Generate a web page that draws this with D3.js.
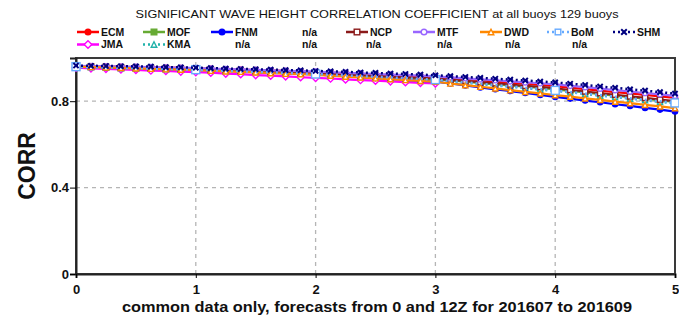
<!DOCTYPE html>
<html><head><meta charset="utf-8">
<script src="https://cdn.jsdelivr.net/npm/d3@7"></script>
<style>body{margin:0;background:#fff}svg{display:block;font-family:"Liberation Sans",Arial,sans-serif}</style>
</head><body><svg id="c" width="679" height="320"></svg>
<script>
// 3-hourly forecast lead times in days (0 .. 5)
const leadDays = [0,0.125,0.25,0.375,0.5,0.625,0.75,0.875,1,1.125,1.25,1.375,1.5,1.625,1.75,1.875,2,2.125,2.25,2.375,2.5,2.625,2.75,2.875,3,3.125,3.25,3.375,3.5,3.625,3.75,3.875,4,4.125,4.25,4.375,4.5,4.625,4.75,4.875,5];
const dailyDays = [0,1,2,3,4,5];
const xTicks = [0,1,2,3,4,5];
const yTicks = [0,0.4,0.8];

const ECM = [0.963,0.962,0.961,0.959,0.958,0.957,0.955,0.954,0.952,0.950,0.948,0.946,0.944,0.942,0.940,0.937,0.935,0.932,0.929,0.926,0.923,0.921,0.918,0.915,0.912,0.907,0.902,0.897,0.891,0.886,0.881,0.875,0.870,0.863,0.856,0.849,0.842,0.836,0.829,0.822,0.815];
const JMA = [0.955,0.952,0.950,0.947,0.945,0.942,0.940,0.937,0.935,0.932,0.928,0.925,0.921,0.918,0.915,0.911,0.908,0.905,0.901,0.898,0.895,0.892,0.888,0.885,0.882];
const MOF = [0.961,0.960,0.958,0.956,0.955,0.953,0.951,0.949,0.947,0.945,0.942,0.940,0.938,0.935,0.933,0.930,0.928,0.925,0.922,0.918,0.915,0.912,0.909,0.905,0.902,0.896,0.890,0.884,0.878,0.873,0.867,0.861,0.855,0.848,0.841,0.833,0.826,0.819,0.812,0.804,0.797];
const KMA = [0.958,0.957,0.955,0.953,0.952,0.950,0.948,0.947,0.945,0.943,0.940,0.938,0.935,0.933,0.930,0.928,0.925,0.922,0.918,0.915,0.911,0.908,0.905,0.901,0.898,0.892,0.886,0.879,0.873,0.867,0.861,0.854,0.848,0.841,0.834,0.826,0.819,0.812,0.805,0.797,0.790];
const FNM = [0.962,0.960,0.958,0.956,0.954,0.952,0.950,0.948,0.946,0.943,0.941,0.938,0.935,0.932,0.930,0.927,0.924,0.920,0.916,0.911,0.907,0.903,0.899,0.894,0.890,0.882,0.873,0.864,0.855,0.847,0.838,0.829,0.820,0.812,0.803,0.795,0.786,0.778,0.769,0.761,0.752];
const NCP = [0.962,0.961,0.959,0.957,0.956,0.954,0.952,0.950,0.948,0.946,0.944,0.941,0.939,0.937,0.935,0.932,0.930,0.927,0.924,0.921,0.918,0.914,0.911,0.908,0.905,0.899,0.894,0.888,0.883,0.877,0.871,0.866,0.860,0.852,0.845,0.837,0.830,0.822,0.815,0.807,0.800];
const MTF = [0.964,0.963,0.962,0.960,0.959,0.958,0.956,0.955,0.953,0.951,0.949,0.947,0.945,0.943,0.941,0.939,0.937,0.934,0.931,0.929,0.926,0.923,0.921,0.918,0.915,0.910,0.906,0.901,0.897,0.892,0.887,0.883,0.878,0.871,0.865,0.858,0.851,0.845,0.838,0.832,0.825];
const DWD = [0.960,0.958,0.956,0.954,0.952,0.950,0.948,0.946,0.944,0.941,0.938,0.936,0.933,0.930,0.927,0.925,0.922,0.918,0.914,0.910,0.906,0.902,0.898,0.894,0.890,0.882,0.874,0.867,0.859,0.851,0.843,0.836,0.828,0.821,0.813,0.806,0.798,0.791,0.783,0.776,0.768];
const BoM = [0.960,0.946,0.926,0.900,0.850,0.792];
const SHM = [0.965,0.964,0.963,0.962,0.961,0.960,0.958,0.957,0.955,0.953,0.951,0.949,0.948,0.946,0.944,0.943,0.940,0.938,0.936,0.933,0.931,0.928,0.926,0.923,0.920,0.916,0.912,0.908,0.904,0.900,0.896,0.891,0.887,0.881,0.875,0.868,0.862,0.855,0.849,0.842,0.835];

const series = [
  {name:"ECM", vals:ECM, xs:leadDays, color:"#ff0000", marker:"circle", fill:true, dash:null, lx:77, row:0},
  {name:"JMA", vals:JMA, xs:leadDays, color:"#ff00ff", marker:"diamond", fill:false, dash:null, lx:77, row:1},
  {name:"MOF", vals:MOF, xs:leadDays, color:"#66aa33", marker:"square", fill:true, dash:null, lx:143, row:0},
  {name:"KMA", vals:KMA, xs:leadDays, color:"#20b2aa", marker:"triangle", fill:false, dash:"2,3", lx:143, row:1},
  {name:"FNM", vals:FNM, xs:leadDays, color:"#0000ff", marker:"circle", fill:true, dash:null, lx:211, row:0},
  {name:"NCP", vals:NCP, xs:leadDays, color:"#8b1a1a", marker:"square", fill:false, dash:null, lx:346, row:0},
  {name:"MTF", vals:MTF, xs:leadDays, color:"#9966ff", marker:"circle", fill:false, dash:null, lx:413, row:0},
  {name:"DWD", vals:DWD, xs:leadDays, color:"#ff8800", marker:"triangle", fill:false, dash:null, lx:480, row:0},
  {name:"BoM", vals:BoM, xs:dailyDays, color:"#66aaff", marker:"square", fill:false, dash:"2,3", lx:547, row:0},
  {name:"SHM", vals:SHM, xs:leadDays, color:"#000080", marker:"cross", fill:false, dash:"2,3", lx:613, row:0}
];
const naLabels = [{x:235,row:1},{x:302,row:0},{x:302,row:1},{x:366,row:1},{x:437,row:1},{x:505,row:1},{x:572,row:1}];

const svg = d3.select("#c");
const x = d3.scaleLinear().domain([0,5]).range([76,675]);
const y = d3.scaleLinear().domain([0,1]).range([274,58]);

// grid
svg.append("g").selectAll("line").data(yTicks.filter(d=>d>0)).join("line")
  .attr("x1",x(0)).attr("x2",x(5)).attr("y1",d=>y(d)).attr("y2",d=>y(d))
  .attr("stroke","#b5b5b5").attr("stroke-width",1.3).attr("stroke-dasharray","4,4");
svg.append("g").selectAll("line").data(xTicks.filter(d=>d>0&&d<5)).join("line")
  .attr("x1",d=>x(d)).attr("x2",d=>x(d)).attr("y1",y(0)).attr("y2",y(1))
  .attr("stroke","#b5b5b5").attr("stroke-width",1.3).attr("stroke-dasharray","4,4");

// frame
svg.append("rect").attr("x",x(0)).attr("y",y(1)).attr("width",x(5)-x(0)).attr("height",y(0)-y(1))
  .attr("fill","none").attr("stroke","#3a3a3a").attr("stroke-width",2);

// axes
const yAxis = svg.append("g").attr("transform",`translate(${x(0)},0)`)
  .call(d3.axisLeft(y).tickValues(yTicks).tickSize(6).tickPadding(1).tickFormat(d=>d===0?"0":d3.format(".1f")(d)));
yAxis.select(".domain").attr("stroke","#222").attr("stroke-width",2);
yAxis.selectAll("text").attr("font-size",13).attr("font-weight","bold").attr("fill","#111").attr("font-family","Liberation Sans, Arial");
const xAxis = svg.append("g").attr("transform",`translate(0,${y(0)})`)
  .call(d3.axisBottom(x).tickValues(xTicks).tickSize(4).tickPadding(7).tickFormat(d3.format("d")));
xAxis.select(".domain").attr("stroke","#222").attr("stroke-width",2);
xAxis.selectAll("text").attr("font-size",13).attr("font-weight","bold").attr("fill","#111").attr("font-family","Liberation Sans, Arial");

function drawMarker(g, m, cx, cy, color, fill, s) {
  s = s || 3;
  let el;
  if (m==="circle") el = g.append("circle").attr("cx",cx).attr("cy",cy).attr("r",s);
  else if (m==="square") el = g.append("rect").attr("x",cx-s).attr("y",cy-s).attr("width",2*s).attr("height",2*s);
  else if (m==="diamond") el = g.append("path").attr("d",`M${cx},${cy-s-1}L${cx+s+1},${cy}L${cx},${cy+s+1}L${cx-s-1},${cy}Z`);
  else if (m==="triangle") el = g.append("path").attr("d",`M${cx},${cy-s}L${cx+s},${cy+s}L${cx-s},${cy+s}Z`);
  else if (m==="cross") el = g.append("path").attr("d",`M${cx-s},${cy-s}L${cx+s},${cy+s}M${cx-s},${cy+s}L${cx+s},${cy-s}`);
  el.attr("stroke",color).attr("stroke-width",m==="cross"?2:1.4).attr("fill",fill?color:(m==="cross"?"none":"#fff"));
}

const line = d3.line().x(d=>x(d[0])).y(d=>y(d[1]));
const plot = svg.append("g");
series.forEach(s=>{
  const pts = s.vals.map((v,i)=>[s.xs[i],v]);
  plot.append("path").datum(pts).attr("d",line).attr("fill","none")
    .attr("stroke",s.color).attr("stroke-width",s.dash?2.5:2.2)
    .attr("stroke-dasharray",s.dash);
  const mg = plot.append("g");
  pts.forEach(p=>drawMarker(mg,s.marker,x(p[0]),y(p[1]),s.color,s.fill,s.name==="BoM"?4:2.6));
});

// title
svg.append("text").attr("x",377).attr("y",18).attr("text-anchor","middle")
  .attr("font-size",11.5).attr("fill","#111").attr("textLength",483).attr("lengthAdjust","spacingAndGlyphs")
  .text("SIGNIFICANT WAVE HEIGHT CORRELATION COEFFICIENT at all buoys 129 buoys");

// legend
const rowY = [32,44.5];
const lg = svg.append("g");
series.forEach(s=>{
  const yy = rowY[s.row];
  lg.append("line").attr("x1",s.lx).attr("x2",s.lx+22).attr("y1",yy).attr("y2",yy)
    .attr("stroke",s.color).attr("stroke-width",2.5).attr("stroke-dasharray",s.dash);
  drawMarker(lg,s.marker,s.lx+11,yy,s.color,s.fill,2.8);
  lg.append("text").attr("x",s.lx+24).attr("y",yy+4).attr("font-size",10.5).attr("font-weight","bold")
    .attr("fill","#111").attr("transform",`translate(${s.lx+24},${yy+4}) scale(1,1.12) translate(${-(s.lx+24)},${-(yy+4)})`).text(s.name);
});
naLabels.forEach(n=>{
  const yy = rowY[n.row]+4;
  lg.append("text").attr("x",n.x).attr("y",yy).attr("font-size",10.5).attr("font-weight","bold")
    .attr("fill","#111").attr("transform",`translate(${n.x},${yy}) scale(1,1.12) translate(${-n.x},${-yy})`).text("n/a");
});

// axis titles
svg.append("text").attr("x",377).attr("y",312).attr("text-anchor","middle")
  .attr("font-size",15).attr("font-weight","bold").attr("fill","#111")
  .attr("textLength",510).attr("lengthAdjust","spacingAndGlyphs")
  .text("common data only, forecasts from 0 and 12Z for 201607 to 201609");
svg.append("text").attr("transform","translate(35,166) rotate(-90)").attr("text-anchor","middle")
  .attr("font-size",23).attr("font-weight","bold").attr("fill","#111").text("CORR");
</script></body></html>
